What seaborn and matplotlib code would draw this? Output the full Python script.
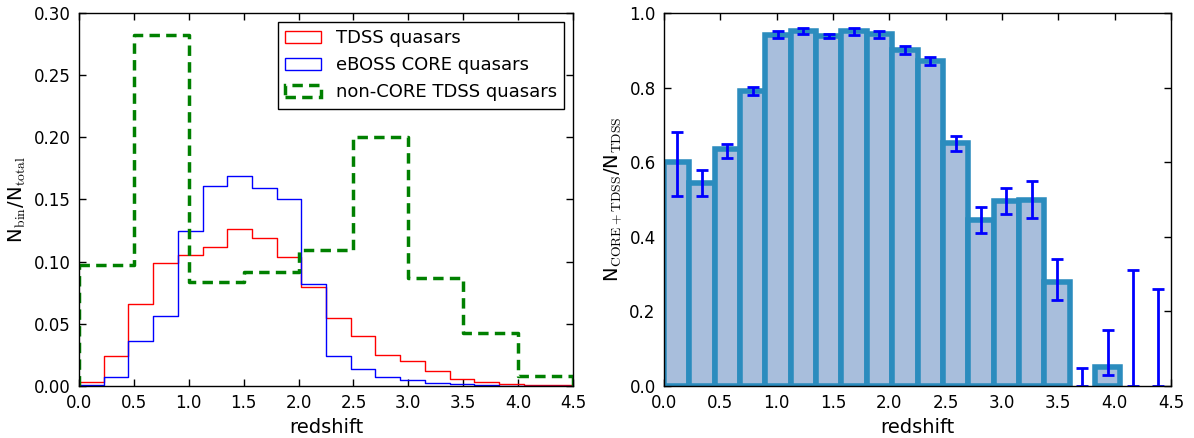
import numpy as np
import pandas as pd
import matplotlib
matplotlib.use("Agg")
import matplotlib.pyplot as plt
from matplotlib.patches import Patch
import seaborn as sns

# Redshift binning: 20 fine bins for the quasar samples and ratio, 9 coarse bins for non-CORE
z_edges = np.linspace(0.0, 4.5, 21)
z_centers = 0.5 * (z_edges[:-1] + z_edges[1:])
z_edges_coarse = np.linspace(0.0, 4.5, 10)
z_centers_coarse = 0.5 * (z_edges_coarse[:-1] + z_edges_coarse[1:])

# Normalised redshift distributions (N_bin / N_total)
tdss_frac = [0.003, 0.024, 0.066, 0.099, 0.105, 0.112, 0.126, 0.119, 0.104, 0.080,
             0.055, 0.040, 0.025, 0.020, 0.012, 0.006, 0.003, 0.002, 0.001, 0.0005]
core_frac = [0.001, 0.007, 0.036, 0.056, 0.125, 0.161, 0.169, 0.159, 0.150, 0.082,
             0.024, 0.014, 0.007, 0.0046, 0.0024, 0.0014, 0.0008, 0.0004, 0.0002, 0.0001]
noncore_frac = [0.097, 0.282, 0.084, 0.092, 0.109, 0.200, 0.087, 0.043, 0.008]

# Fraction of TDSS quasars also targeted by CORE, with lower / upper uncertainties
overlap_frac = [0.600, 0.545, 0.635, 0.792, 0.942, 0.953, 0.937, 0.951, 0.943, 0.900,
                0.872, 0.652, 0.445, 0.497, 0.500, 0.278, 0.0, 0.050, 0.0, 0.0]
overlap_err_lo = [0.090, 0.035, 0.024, 0.011, 0.010, 0.010, 0.005, 0.010, 0.010, 0.009,
                  0.011, 0.021, 0.035, 0.036, 0.049, 0.048, 0.0, 0.021, 0.0, 0.0]
overlap_err_hi = [0.081, 0.035, 0.015, 0.009, 0.009, 0.008, 0.006, 0.009, 0.008, 0.011,
                  0.009, 0.019, 0.036, 0.033, 0.050, 0.063, 0.049, 0.099, 0.310, 0.260]

x_ticks = [0.0, 0.5, 1.0, 1.5, 2.0, 2.5, 3.0, 3.5, 4.0, 4.5]
y_ticks_left = [0.00, 0.05, 0.10, 0.15, 0.20, 0.25, 0.30]
y_ticks_right = [0.0, 0.2, 0.4, 0.6, 0.8, 1.0]

sns.set_style("ticks")
plt.rcParams.update({
    "font.family": ["DejaVu Sans"],
    "mathtext.fontset": "cm",
    "font.size": 12,
    "xtick.direction": "in",
    "ytick.direction": "in",
    "xtick.top": True,
    "ytick.right": True,
    "xtick.major.size": 5,
    "ytick.major.size": 5,
    "xtick.major.width": 1,
    "ytick.major.width": 1,
    "xtick.labelsize": 12,
    "ytick.labelsize": 12,
    "axes.edgecolor": "black",
    "axes.linewidth": 1.0,
    "xtick.color": "black",
    "ytick.color": "black",
    "axes.labelcolor": "black",
    "text.color": "black",
    "xtick.major.pad": 6,
    "ytick.major.pad": 6,
})

fig = plt.figure(figsize=(11.94, 4.38), dpi=100)
ax1 = fig.add_axes([79 / 1194, 52 / 438, 494 / 1194, 373 / 438])
ax2 = fig.add_axes([664 / 1194, 52 / 438, 507 / 1194, 373 / 438])


def step_hist(ax, centers, weights, edges, **kw):
    df = pd.DataFrame({"z": centers, "w": weights})
    sns.histplot(data=df, x="z", weights="w", bins=list(edges), element="step",
                 fill=False, ax=ax, **kw)
    # close the outline down to zero at both ends, like a step histogram
    ax.vlines([edges[0], edges[-1]], 0, [weights[0], weights[-1]],
              colors=kw.get("color"), linewidth=kw.get("linewidth", 1),
              linestyles=kw.get("linestyle", "-"))


step_hist(ax1, z_centers, tdss_frac, z_edges, color="red", linewidth=1)
step_hist(ax1, z_centers, core_frac, z_edges, color="blue", linewidth=1)
green_dash = (0, (3.0, 1.8))
step_hist(ax1, z_centers_coarse, noncore_frac, z_edges_coarse,
          color="green", linewidth=2.5, linestyle=green_dash)

ax1.set_xlim(0, 4.5)
ax1.set_ylim(0, 0.30)
ax1.set_xticks(x_ticks)
ax1.set_yticks(y_ticks_left)
ax1.set_xticklabels([f"{t:.1f}" for t in x_ticks])
ax1.set_yticklabels([f"{t:.2f}" for t in y_ticks_left])
ax1.set_xlabel("redshift", fontsize=14)
ax1.set_ylabel(r"N$_{\rm bin}$/N$_{\rm total}$", fontsize=14, labelpad=4)

handles = [
    Patch(facecolor="none", edgecolor="red", linewidth=1),
    Patch(facecolor="none", edgecolor="blue", linewidth=1),
    Patch(facecolor="none", edgecolor="green", linewidth=2.5, linestyle=green_dash),
]
labels = ["TDSS quasars", "eBOSS CORE quasars", "non-CORE TDSS quasars"]
leg = ax1.legend(handles, labels, loc="upper right", fontsize=13, frameon=True,
                 fancybox=False, framealpha=1, edgecolor="black",
                 borderaxespad=0.5, handlelength=2.0, labelspacing=0.5)
leg.get_frame().set_linewidth(1.0)

# Right panel: overlap fraction as thick-edged bars with error bars
overlap_df = pd.DataFrame({"z": z_centers, "w": overlap_frac})
sns.histplot(data=overlap_df, x="z", weights="w", bins=list(z_edges), element="bars",
             fill=True, color="#a8bedc", edgecolor="#2b8cbe", linewidth=4,
             alpha=1, ax=ax2)
# empty bins get no outline along the baseline
for bar in ax2.patches:
    if bar.get_height() == 0:
        bar.set_linewidth(0)
ax2.errorbar(z_centers, overlap_frac, yerr=[overlap_err_lo, overlap_err_hi],
             fmt="none", ecolor="blue", elinewidth=2, capsize=4, capthick=2,
             zorder=5)

ax2.set_xlim(0, 4.5)
ax2.set_ylim(0, 1.0)
ax2.set_xticks(x_ticks)
ax2.set_yticks(y_ticks_right)
ax2.set_xticklabels([f"{t:.1f}" for t in x_ticks])
ax2.set_yticklabels([f"{t:.1f}" for t in y_ticks_right])
ax2.set_xlabel("redshift", fontsize=14)
ax2.set_ylabel(r"N$_{\rm CORE+TDSS}$/N$_{\rm TDSS}$", fontsize=14, labelpad=4)

for ax in (ax1, ax2):
    for side in ("top", "right", "bottom", "left"):
        ax.spines[side].set_visible(True)
        ax.spines[side].set_zorder(10)

fig.savefig("out.png", dpi=100, facecolor="white")
